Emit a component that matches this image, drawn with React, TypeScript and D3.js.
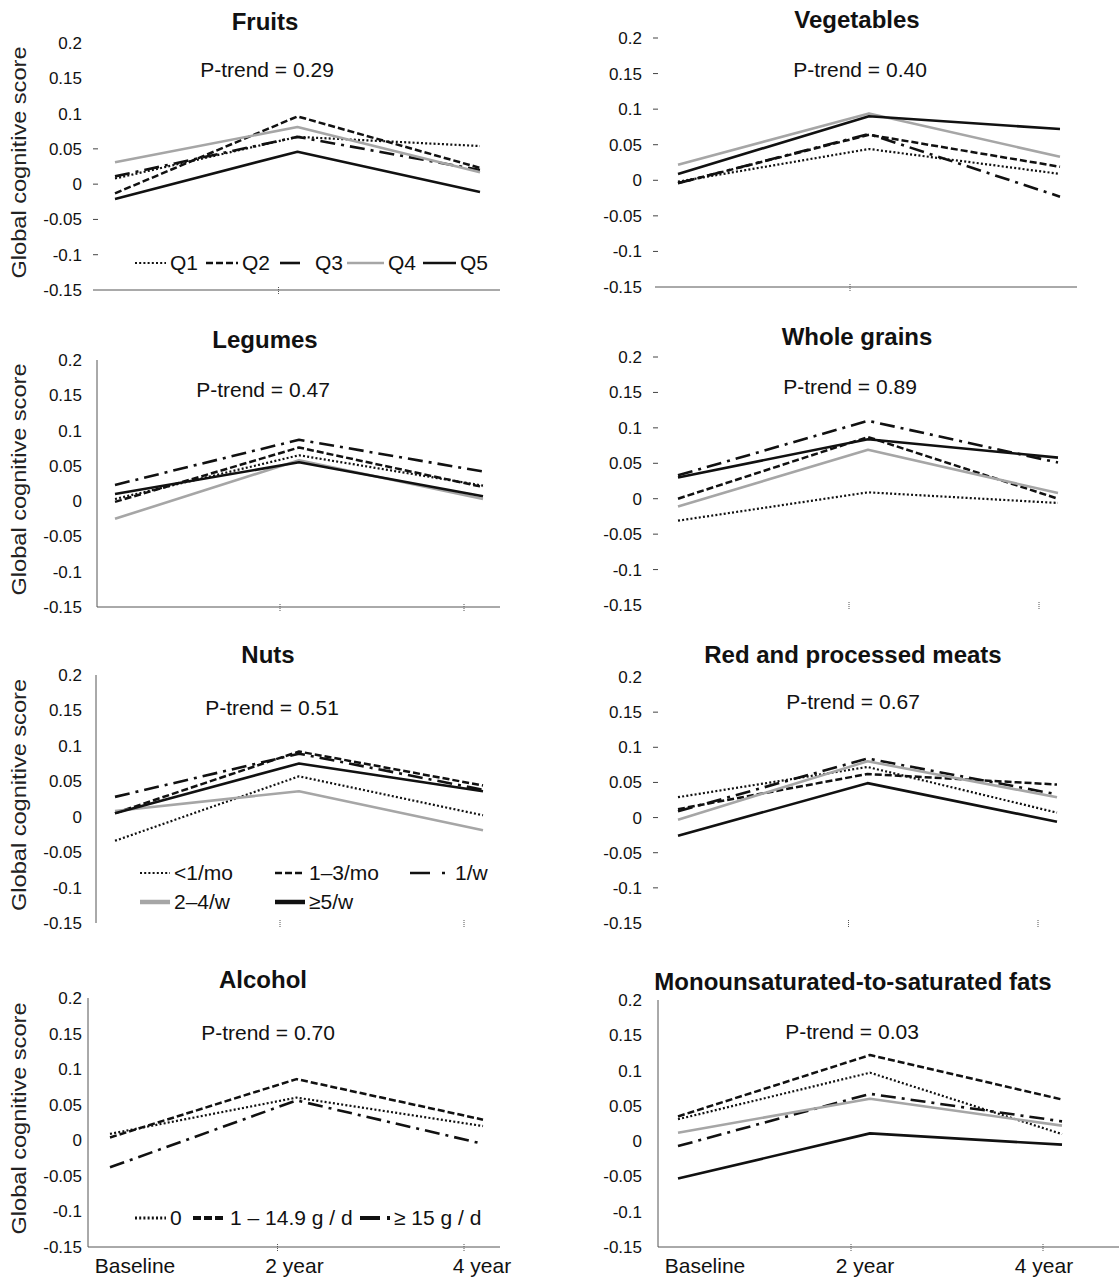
import React from "react";
import * as d3 from "d3";

// time points and y ticks
const periods = ["Baseline", "2 year", "4 year"];
const yTicks = [0.2, 0.15, 0.1, 0.05, 0, -0.05, -0.1, -0.15];
const yTickLabels = ["0.2", "0.15", "0.1", "0.05", "0", "-0.05", "-0.1", "-0.15"];

// series order: dotted, dashed, dash-dot, gray, black
const fruits = [
  [0.008, 0.067, 0.054],
  [-0.013, 0.096, 0.023],
  [0.011, 0.067, 0.02],
  [0.031, 0.081, 0.017],
  [-0.021, 0.046, -0.011],
];
const vegetables = [
  [-0.002, 0.044, 0.009],
  [-0.004, 0.064, 0.019],
  [-0.004, 0.065, -0.023],
  [0.022, 0.094, 0.033],
  [0.009, 0.09, 0.072],
];
const legumes = [
  [0.003, 0.065, 0.022],
  [-0.001, 0.076, 0.02],
  [0.023, 0.087, 0.042],
  [-0.025, 0.058, 0.003],
  [0.01, 0.055, 0.007],
];
const wholeGrains = [
  [-0.031, 0.009, -0.006],
  [0.0, 0.087, 0.0],
  [0.033, 0.11, 0.051],
  [-0.011, 0.069, 0.008],
  [0.03, 0.084, 0.058],
];
const nuts = [
  [-0.034, 0.057, 0.002],
  [0.005, 0.092, 0.044],
  [0.028, 0.089, 0.038],
  [0.008, 0.036, -0.019],
  [0.005, 0.075, 0.036],
];
const redMeats = [
  [0.029, 0.072, 0.007],
  [0.012, 0.062, 0.047],
  [0.009, 0.084, 0.033],
  [-0.003, 0.08, 0.029],
  [-0.026, 0.049, -0.006],
];
const alcohol = [
  [0.009, 0.06, 0.02],
  [0.004, 0.086, 0.029],
  [-0.038, 0.056, -0.005],
];
const mufaSfa = [
  [0.031, 0.097, 0.01],
  [0.035, 0.122, 0.059],
  [-0.007, 0.067, 0.028],
  [0.012, 0.06, 0.022],
  [-0.053, 0.011, -0.005],
];

const titles = [
  "Fruits", "Vegetables", "Legumes", "Whole grains",
  "Nuts", "Red and processed meats", "Alcohol", "Monounsaturated-to-saturated fats",
];
const pTrends = ["0.29", "0.40", "0.47", "0.89", "0.51", "0.67", "0.70", "0.03"];
const quintileLegend = ["Q1", "Q2", "Q3", "Q4", "Q5"];
const frequencyLegend = ["<1/mo", "1–3/mo", "1/w", "2–4/w", "≥5/w"];
const alcoholLegend = ["0", "1 – 14.9 g / d", "≥ 15 g / d"];

const FONT = "'Liberation Sans', Arial, sans-serif";
const INK = "#111";

const lineStyles = [
  { stroke: INK, dash: "2,2.2", w: 2.2 },
  { stroke: INK, dash: "7,3", w: 2.5 },
  { stroke: INK, dash: "15,6,3,6", w: 2.6 },
  { stroke: "#a6a6a6", dash: undefined, w: 2.6 },
  { stroke: INK, dash: undefined, w: 2.6 },
];

type Cfg = {
  data: number[][];
  top: number; bottom: number; x0: number; x2: number;
  labelRight: number; titleX: number; titleY: number; pX: number; pY: number;
  yLine?: number; xLine?: [number, number];
  dashes?: number[]; xTicks: number[]; yTitle: boolean;
  xLabels?: number[];
};

const panels: Cfg[] = [
  { data: fruits, top: 43, bottom: 290, x0: 115, x2: 480, labelRight: 82, titleX: 265, titleY: 22, pX: 267, pY: 70,
    xLine: [93, 500], dashes: [3, 4, 5, 6], xTicks: [1], yTitle: true },
  { data: vegetables, top: 38, bottom: 287, x0: 678, x2: 1060, labelRight: 642, titleX: 857, titleY: 20, pX: 860, pY: 70,
    xLine: [655, 1077], dashes: [0, 1, 2, 3, 4, 5, 6], xTicks: [1], yTitle: false },
  { data: legumes, top: 360, bottom: 607, x0: 115, x2: 483, labelRight: 82, titleX: 265, titleY: 340, pX: 263, pY: 390,
    yLine: 97, xLine: [97, 500], xTicks: [1, 2], yTitle: true },
  { data: wholeGrains, top: 357, bottom: 605, x0: 678, x2: 1058, labelRight: 642, titleX: 857, titleY: 337, pX: 850, pY: 387,
    dashes: [0, 1, 2, 3, 4, 5, 6], xTicks: [1, 2], yTitle: false },
  { data: nuts, top: 675, bottom: 923, x0: 115, x2: 483, labelRight: 82, titleX: 268, titleY: 655, pX: 272, pY: 708,
    yLine: 96, xTicks: [1, 2], yTitle: true },
  { data: redMeats, top: 677, bottom: 923, x0: 678, x2: 1057, labelRight: 642, titleX: 853, titleY: 655, pX: 853, pY: 702,
    dashes: [1, 2, 3, 4, 5, 6], xTicks: [1, 2], yTitle: false },
  { data: alcohol, top: 998, bottom: 1247, x0: 110, x2: 483, labelRight: 82, titleX: 263, titleY: 980, pX: 268, pY: 1033,
    yLine: 88, xLine: [88, 500], xTicks: [1, 2], yTitle: true, xLabels: [25, -2, -1] },
  { data: mufaSfa, top: 1000, bottom: 1247, x0: 678, x2: 1062, labelRight: 642, titleX: 853, titleY: 982, pX: 852, pY: 1032,
    yLine: 658, xLine: [658, 1119], xTicks: [1, 2], yTitle: false, xLabels: [27, -5, -18] },
];

function Panel({ cfg, idx }: { cfg: Cfg; idx: number }) {
  const y = d3.scaleLinear().domain([-0.15, 0.2]).range([cfg.bottom, cfg.top]);
  const x = d3.scalePoint<string>().domain(periods).range([cfg.x0, cfg.x2]);
  const line = d3.line<number>().x((_, i) => x(periods[i]) as number).y((d) => y(d));
  return (
    <g>
      <text x={cfg.titleX} y={cfg.titleY} textAnchor="middle" dy="0.35em" fontSize={24} fontWeight="bold"
        fontFamily={FONT} fill={INK}>{titles[idx]}</text>
      <text x={cfg.pX} y={cfg.pY} textAnchor="middle" dy="0.35em" fontSize={21} fontFamily={FONT} fill={INK}>
        P-trend = {pTrends[idx]}
      </text>
      {cfg.yTitle && (
        <text transform={`translate(26,${(cfg.top + cfg.bottom) / 2 - 4}) rotate(-90)`} textAnchor="middle"
          fontSize={21} textLength={232} lengthAdjust="spacingAndGlyphs" fontFamily={FONT} fill="#222">
          Global cognitive score
        </text>
      )}
      {yTicks.map((t, i) => (
        <g key={i}>
          <text x={cfg.labelRight} y={y(t)} dy="0.35em" textAnchor="end" fontSize={17} fontFamily={FONT} fill={INK}>
            {yTickLabels[i]}
          </text>
          {cfg.dashes && cfg.dashes.includes(i) && (
            <line x1={cfg.labelRight + 11} x2={cfg.labelRight + 16} y1={y(t)} y2={y(t)} stroke="#444" strokeWidth={1} />
          )}
        </g>
      ))}
      {cfg.yLine !== undefined && (
        <line x1={cfg.yLine} x2={cfg.yLine} y1={cfg.top} y2={cfg.bottom} stroke="#555" strokeWidth={1} />
      )}
      {cfg.xLine && (
        <line x1={cfg.xLine[0]} x2={cfg.xLine[1]} y1={cfg.bottom} y2={cfg.bottom} stroke="#555" strokeWidth={1} />
      )}
      {cfg.xTicks.map((k) => {
        const tx = (x(periods[k]) as number) - 19;
        return <line key={k} x1={tx} x2={tx} y1={cfg.bottom - 3} y2={cfg.bottom + 4} stroke="#555"
          strokeWidth={1} strokeDasharray="1,1" />;
      })}
      {cfg.xLabels && periods.map((p, i) => (
        <text key={p} x={(x(p) as number) + cfg.xLabels![i]} y={1273} textAnchor="middle" fontSize={21}
          fontFamily={FONT} fill={INK}>{p}</text>
      ))}
      {cfg.data.map((s, i) => {
        const st = lineStyles[i];
        return (
          <path key={i} d={line(s) || ""} fill="none" stroke={st.stroke} strokeWidth={st.w}
            strokeDasharray={st.dash} strokeLinejoin="round" />
        );
      })}
    </g>
  );
}

function LegendItem({ x1, x2, y, style, label, w }: any) {
  return (
    <g>
      <line x1={x1} x2={x2} y1={y} y2={y} stroke={style.stroke} strokeWidth={w ?? style.w}
        strokeDasharray={style.dash} />
      <text x={x2 + 4} y={y} dy="0.35em" fontSize={21} fontFamily={FONT} fill={INK}>{label}</text>
    </g>
  );
}

export default function App() {
  return (
    <svg width={1119} height={1283} style={{ position: "absolute", left: 0, top: 0, background: "#fff" }}>
      <rect width={1119} height={1283} fill="#fff" />
      {panels.map((p, i) => <Panel key={i} cfg={p} idx={i} />)}

      {/* Fruits legend */}
      <LegendItem x1={135} x2={166} y={263} style={lineStyles[0]} label={quintileLegend[0]} />
      <LegendItem x1={206} x2={238} y={263} style={lineStyles[1]} label={quintileLegend[1]} />
      <LegendItem x1={280} x2={311} y={263} style={{ ...lineStyles[2], dash: "20,30" }} label={quintileLegend[2]} />
      <LegendItem x1={347} x2={384} y={263} style={lineStyles[3]} label={quintileLegend[3]} />
      <LegendItem x1={423} x2={456} y={263} style={lineStyles[4]} label={quintileLegend[4]} />

      {/* Nuts legend */}
      <LegendItem x1={140} x2={170} y={873} style={lineStyles[0]} label={frequencyLegend[0]} />
      <LegendItem x1={275} x2={305} y={873} style={lineStyles[1]} label={frequencyLegend[1]} />
      <LegendItem x1={410} x2={451} y={873} style={{ ...lineStyles[2], dash: "20,12,3,30" }} label={frequencyLegend[2]} />
      <LegendItem x1={140} x2={170} y={902} style={lineStyles[3]} w={4.5} label={frequencyLegend[3]} />
      <LegendItem x1={275} x2={305} y={902} style={lineStyles[4]} w={4.5} label={frequencyLegend[4]} />

      {/* Alcohol legend */}
      <LegendItem x1={135} x2={166} y={1218} style={lineStyles[0]} w={3} label={alcoholLegend[0]} />
      <LegendItem x1={193} x2={226} y={1218} style={{ ...lineStyles[1], dash: "8,3" }} w={4} label={alcoholLegend[1]} />
      <LegendItem x1={360} x2={390} y={1218} style={{ ...lineStyles[2], dash: "20,7,3,30" }} w={4} label={alcoholLegend[2]} />
    </svg>
  );
}
